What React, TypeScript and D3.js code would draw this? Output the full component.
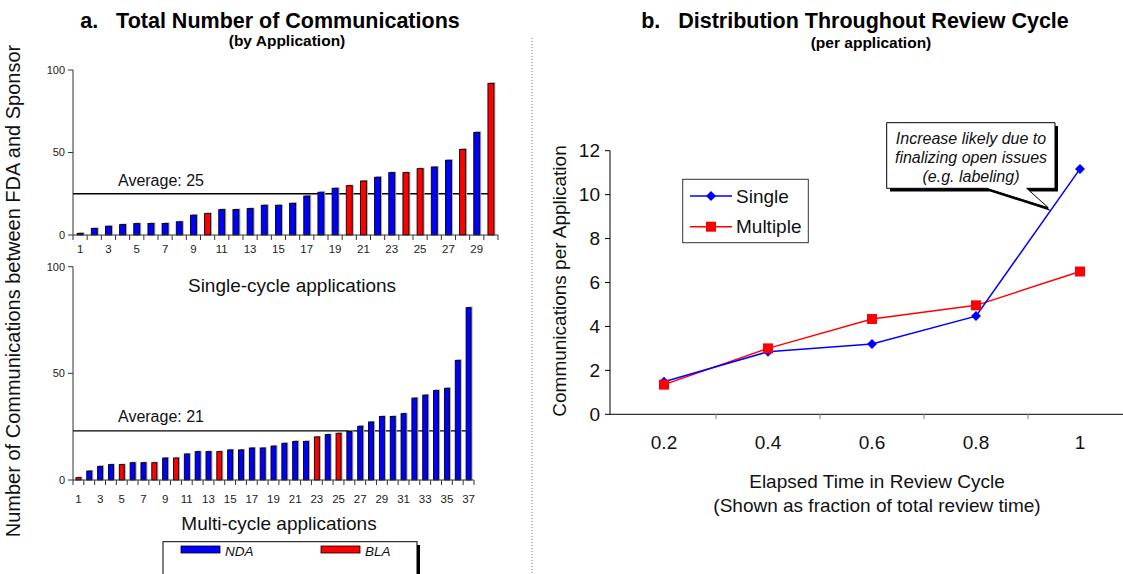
import React from 'react';
import * as d3 from 'd3';

// ---------- Data ----------
const singleCycleApps = d3.range(1, 31);
const singleCycleValues = [1, 4, 5.3, 6.3, 6.9, 7, 7, 8, 12, 13, 15.4, 15.4, 16, 18, 18, 19.2, 23.6, 25.9, 28.3, 29.9, 32.7, 35, 37.8, 37.8, 40.2, 41.2, 45.3, 51.9, 62.2, 91.9];
const singleCycleTypes = ['NDA','NDA','NDA','NDA','NDA','NDA','NDA','NDA','NDA','BLA','NDA','NDA','NDA','NDA','NDA','NDA','NDA','NDA','NDA','BLA','BLA','NDA','NDA','BLA','BLA','NDA','NDA','BLA','NDA','BLA'];
const singleCycleAverageLine = 25;
const singleCycleAverageText = 'Average: 25';

const multiCycleApps = d3.range(1, 38);
const multiCycleValues = [1.1, 4.2, 6.4, 7.2, 7.2, 8.1, 8.1, 8.1, 10.3, 10.3, 12.2, 13.3, 13.3, 13.3, 14.1, 14.1, 15, 15, 15.9, 17.2, 18.1, 18.1, 20.2, 21.3, 21.9, 22.8, 25.2, 27.2, 29.8, 29.8, 31.1, 38.4, 39.8, 42, 43, 56.1, 80.8];
const multiCycleTypes = ['BLA','NDA','NDA','NDA','BLA','NDA','NDA','BLA','NDA','BLA','NDA','NDA','NDA','BLA','NDA','NDA','NDA','NDA','NDA','NDA','NDA','NDA','BLA','NDA','BLA','NDA','NDA','NDA','NDA','NDA','NDA','NDA','NDA','NDA','NDA','NDA','NDA'];
const multiCycleAverageLine = 23;
const multiCycleAverageText = 'Average: 21';

const barYTicks = [0, 50, 100];

const elapsedLabels = ['0.2', '0.4', '0.6', '0.8', '1'];
const singleSeries = [1.48, 2.85, 3.2, 4.47, 11.17];
const multipleSeries = [1.35, 3.0, 4.34, 4.96, 6.5];
const lineYTicks = [0, 2, 4, 6, 8, 10, 12];

const typeColor: Record<string, string> = { NDA: '#0000FF', BLA: '#FF0000' };
const FONT = '"Liberation Sans", Arial, Helvetica, sans-serif';
const AXIS = '#333';

type PanelProps = {
  apps: number[];
  values: number[];
  types: string[];
  x0: number; x1: number; yTop: number; yBase: number;
  avg: number; avgText: string; avgTextX: number; avgTextY: number;
  labelY: number; barFrac: number;
};

function BarPanel(p: PanelProps) {
  const x = d3.scaleBand<number>().domain(p.apps).range([p.x0, p.x1]).padding(0);
  const y = d3.scaleLinear().domain([0, 100]).range([p.yBase, p.yTop]);
  const step = x.step();
  const bw = step * p.barFrac;
  const last = p.apps[p.apps.length - 1];
  const boundaries = d3.range(0, p.apps.length + 1).map((i) => p.x0 + i * step);
  return (
    <g>
      <line x1={p.x0} x2={(x(last) as number) + step / 2} y1={y(p.avg)} y2={y(p.avg)} stroke="#000" strokeWidth={1.3} />
      <text x={p.avgTextX} y={p.avgTextY} fontSize={16} fontFamily={FONT} fill="#111">{p.avgText}</text>
      {p.values.map((v, i) => {
        const cx = (x(p.apps[i]) as number) + step / 2;
        return (
          <g key={i}>
            <rect x={cx - bw / 2 + 1.5} y={y(v) - 1} width={bw} height={p.yBase - y(v) + 1} fill="#aaa" />
            <rect x={cx - bw / 2} y={y(v)} width={bw} height={p.yBase - y(v)} fill={typeColor[p.types[i]]} stroke="#000" strokeWidth={0.9} />
          </g>
        );
      })}
      <line x1={p.x0} x2={p.x0} y1={p.yTop} y2={p.yBase} stroke={AXIS} strokeWidth={1} />
      <line x1={p.x0} x2={p.x1} y1={p.yBase} y2={p.yBase} stroke={AXIS} strokeWidth={1} />
      {barYTicks.map((t) => (
        <g key={t}>
          <line x1={p.x0 - 5} x2={p.x0} y1={y(t)} y2={y(t)} stroke={AXIS} />
          <text x={p.x0 - 8} y={y(t)} dy="0.35em" textAnchor="end" fontSize={11} fontFamily={FONT} fill="#222">{t}</text>
        </g>
      ))}
      {boundaries.map((bx, i) => (
        <line key={i} x1={bx} x2={bx} y1={p.yBase} y2={p.yBase + 5} stroke={AXIS} />
      ))}
      {p.apps.filter((a) => a % 2 === 1).map((a) => (
        <text key={a} x={(x(a) as number) + step / 2} y={p.labelY} textAnchor="middle" fontSize={11.5} fontFamily={FONT} fill="#222">{a}</text>
      ))}
    </g>
  );
}

function LinePanel() {
  const x = d3.scaleBand<string>().domain(elapsedLabels).range([612, 1132]).padding(0);
  const y = d3.scaleLinear().domain([0, 12]).range([414.3, 150.7]);
  const step = x.step();
  const cx = (l: string) => (x(l) as number) + step / 2;
  const line = d3.line<number>().x((_, i) => cx(elapsedLabels[i])).y((d) => y(d));
  const diamond = (px: number, py: number, r: number) => `M${px},${py - r}L${px + r},${py}L${px},${py + r}L${px - r},${py}Z`;
  return (
    <g fontFamily={FONT}>
      <line x1={610} x2={610} y1={y(12)} y2={y(0)} stroke="#000" />
      <line x1={610} x2={1123} y1={y(0)} y2={y(0)} stroke="#000" />
      {lineYTicks.map((t) => (
        <g key={t}>
          <line x1={605} x2={610} y1={y(t)} y2={y(t)} stroke="#000" />
          <text x={600} y={y(t)} dy="0.35em" textAnchor="end" fontSize={19} fill="#111">{t}</text>
        </g>
      ))}
      {elapsedLabels.slice(0, 4).map((l) => (
        <line key={l} x1={(x(l) as number) + step} x2={(x(l) as number) + step} y1={y(0)} y2={y(0) + 5} stroke="#888" />
      ))}
      {elapsedLabels.map((l) => (
        <text key={l} x={cx(l)} y={449} textAnchor="middle" fontSize={19} fill="#111">{l}</text>
      ))}
      <text transform="translate(566,281) rotate(-90)" textAnchor="middle" fontSize={19} fill="#111">Communications per Application</text>
      <text x={877} y={488} textAnchor="middle" fontSize={19} fill="#111">Elapsed Time in Review Cycle</text>
      <text x={877} y={512} textAnchor="middle" fontSize={19} fill="#111">(Shown as fraction of total review time)</text>

      <path d={line(multipleSeries) || ''} fill="none" stroke="#FF0000" strokeWidth={1.5} />
      <path d={line(singleSeries) || ''} fill="none" stroke="#0000FF" strokeWidth={1.5} />
      {singleSeries.map((v, i) => (
        <path key={'s' + i} d={diamond(cx(elapsedLabels[i]), y(v), 5)} fill="#0000FF" />
      ))}
      {multipleSeries.map((v, i) => (
        <rect key={'m' + i} x={cx(elapsedLabels[i]) - 5} y={y(v) - 5} width={10} height={10} fill="#FF0000" />
      ))}

      <rect x={682.7} y={179.3} width={125.6} height={63.4} fill="#fff" stroke="#333" strokeWidth={1} />
      <line x1={690} x2={732} y1={196} y2={196} stroke="#0000FF" strokeWidth={1.5} />
      <path d={diamond(711, 196, 5)} fill="#0000FF" />
      <text x={736} y={196} dy="0.35em" fontSize={19} fill="#111">Single</text>
      <line x1={690} x2={732} y1={226.7} y2={226.7} stroke="#FF0000" strokeWidth={1.5} />
      <rect x={706} y={221.7} width={10} height={10} fill="#FF0000" />
      <text x={736} y={226.7} dy="0.35em" fontSize={19} fill="#111">Multiple</text>

      <path d="M890,126 L1058,126 L1058,191.5 L1030,191.5 L1051,211 L990,191.5 L890,191.5 Z" fill="#000" />
      <path d="M886.7,122.7 L1055,122.7 L1055,188.3 L1026.7,188.3 L1048.3,207.7 L986.7,188.3 L886.7,188.3 Z" fill="#fff" stroke="#000" strokeWidth={1} />
      <text x={971} y={143.5} textAnchor="middle" fontSize={16} fontStyle="italic" fill="#111">Increase likely due to</text>
      <text x={971} y={162.5} textAnchor="middle" fontSize={16} fontStyle="italic" fill="#111">finalizing open issues</text>
      <text x={971} y={181.5} textAnchor="middle" fontSize={16} fontStyle="italic" fill="#111">(e.g. labeling)</text>
    </g>
  );
}

export default function App() {
  return (
    <svg width={1123} height={574} style={{ position: 'absolute', left: 0, top: 0, background: '#fff' }} fontFamily={FONT}>
      <rect x={0} y={0} width={1123} height={574} fill="#fff" />
      <text x={270} y={28} textAnchor="middle" fontSize={21.5} fontWeight="bold" fill="#000" xmlSpace="preserve">a.   Total Number of Communications</text>
      <text x={287} y={46} textAnchor="middle" fontSize={15.5} fontWeight="bold" fill="#000">(by Application)</text>
      <text x={855} y={28} textAnchor="middle" fontSize={21.5} fontWeight="bold" fill="#000" xmlSpace="preserve">b.   Distribution Throughout Review Cycle</text>
      <text x={871} y={48} textAnchor="middle" fontSize={15.5} fontWeight="bold" fill="#000">(per application)</text>

      <line x1={532} x2={532} y1={38} y2={574} stroke="#777" strokeWidth={1} strokeDasharray="1,2" />

      <text transform="translate(20,291) rotate(-90)" textAnchor="middle" fontSize={20} fill="#111">Number of Communications between FDA and Sponsor</text>

      <BarPanel apps={singleCycleApps} values={singleCycleValues} types={singleCycleTypes}
        x0={73} x1={498} yTop={70} yBase={235}
        avg={singleCycleAverageLine} avgText={singleCycleAverageText} avgTextX={118} avgTextY={186}
        labelY={253} barFrac={0.42} />
      <text x={292} y={292} textAnchor="middle" fontSize={19} fill="#111">Single-cycle applications</text>

      <BarPanel apps={multiCycleApps} values={multiCycleValues} types={multiCycleTypes}
        x0={73} x1={474} yTop={266.7} yBase={480}
        avg={multiCycleAverageLine} avgText={multiCycleAverageText} avgTextX={118} avgTextY={422}
        labelY={503} barFrac={0.46} />
      <text x={279} y={530} textAnchor="middle" fontSize={19} fill="#111">Multi-cycle applications</text>

      <rect x={166} y={545} width={254} height={40} fill="#000" />
      <rect x={163} y={541.7} width={254} height={40} fill="#fff" stroke="#000" strokeWidth={1} />
      <rect x={181} y={546} width={39} height={7} fill={typeColor.NDA} stroke="#000" strokeWidth={0.8} />
      <text x={225} y={556} fontSize={13.5} fontStyle="italic" fill="#111">NDA</text>
      <rect x={321} y={546} width={39} height={7} fill={typeColor.BLA} stroke="#000" strokeWidth={0.8} />
      <text x={365} y={556} fontSize={13.5} fontStyle="italic" fill="#111">BLA</text>

      <LinePanel />
    </svg>
  );
}
